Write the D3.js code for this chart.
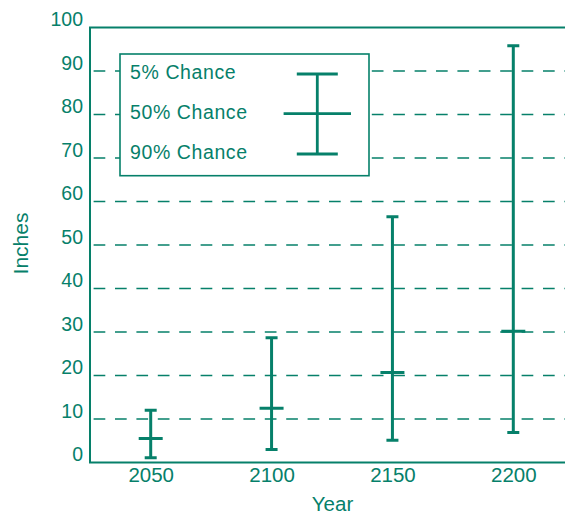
<!DOCTYPE html>
<html>
<head>
<meta charset="utf-8">
<script src="https://cdn.jsdelivr.net/npm/d3@7"></script>
<style>
  body { margin: 0; background: #fff; }
  svg { display: block; font-family: "Liberation Sans", Arial, sans-serif; }
</style>
</head>
<body>
<div id="chart"></div>
<script>
const years = [2050, 2100, 2150, 2200];
const chance5 = [12, 28.7, 56.5, 95.8];
const chance50 = [5.5, 12.5, 20.7, 30.2];
const chance90 = [1.1, 3.0, 5.1, 6.9];
const yTicks = [0, 10, 20, 30, 40, 50, 60, 70, 80, 90, 100];
const legendLabels = ["5% Chance", "50% Chance", "90% Chance"];

const width = 565, height = 516;
const green = "#06806a";

const svg = d3.select("#chart").append("svg")
  .attr("width", width)
  .attr("height", height);

const x = d3.scaleLinear([2050, 2200], [150.7, 513.3]);
const y = d3.scaleLinear([0, 100], [462.5, 27.5]);
const left = 90, right = 565;

// dashed grid
svg.append("g").selectAll("line")
  .data(yTicks.filter(d => d > 0 && d < 100))
  .join("line")
  .attr("x1", 93.6).attr("x2", right)
  .attr("y1", d => y(d)).attr("y2", d => y(d))
  .attr("stroke", green)
  .attr("stroke-width", 1.6)
  .attr("stroke-dasharray", "11.7 9.7");

// frame: left, top, bottom
svg.append("path")
  .attr("d", `M${right},${y(100)}H${left}V${y(0)}H${right}`)
  .attr("fill", "none")
  .attr("stroke", green)
  .attr("stroke-width", 2);

// y labels
svg.append("g").selectAll("text")
  .data(yTicks)
  .join("text")
  .attr("x", 83)
  .attr("y", d => y(d) - 1.5)
  .attr("text-anchor", "end")
  .attr("fill", green)
  .attr("font-size", 19.5)
  .text(d => d);

// x labels
const xAxis = svg.append("g")
  .attr("transform", `translate(0,${y(0)})`)
  .call(d3.axisBottom(x).tickValues(years).tickFormat(d3.format("d")).tickSize(0).tickPadding(5));
xAxis.select(".domain").remove();
xAxis.selectAll("text")
  .attr("fill", green)
  .attr("font-size", 20.5)
  .attr("font-family", "Liberation Sans, Arial, sans-serif");

svg.append("text")
  .attr("x", 332.5).attr("y", 511)
  .attr("text-anchor", "middle")
  .attr("fill", green)
  .attr("font-size", 20.5)
  .text("Year");

svg.append("text")
  .attr("transform", "translate(28,243.5) rotate(-90)")
  .attr("text-anchor", "middle")
  .attr("fill", green)
  .attr("font-size", 21)
  .text("Inches");

// legend
const lg = svg.append("g");
lg.append("rect")
  .attr("x", 120).attr("y", 54)
  .attr("width", 249).attr("height", 121.7)
  .attr("fill", "#fff")
  .attr("stroke", green)
  .attr("stroke-width", 1.6);
lg.selectAll("text")
  .data(legendLabels)
  .join("text")
  .attr("x", 130)
  .attr("y", (d, i) => 79 + i * 40)
  .attr("fill", green)
  .attr("font-size", 19.5)
  .attr("letter-spacing", 0.6)
  .text(d => d);
const lx = 317.3;
lg.append("path")
  .attr("d", `M${lx},74V154M${lx - 20.5},74H${lx + 20.5}M${lx - 20.5},154H${lx + 20.5}M${lx - 33.7},113.7H${lx + 33.7}`)
  .attr("fill", "none")
  .attr("stroke", green)
  .attr("stroke-width", 2.8);

// error bars
const bars = years.map((yr, i) => ({ yr, hi: chance5[i], mid: chance50[i], lo: chance90[i] }));
svg.append("g").selectAll("path")
  .data(bars)
  .join("path")
  .attr("d", d => {
    const cx = x(d.yr);
    return `M${cx},${y(d.hi)}V${y(d.lo)}` +
      `M${cx - 6},${y(d.hi)}H${cx + 6}` +
      `M${cx - 6},${y(d.lo)}H${cx + 6}` +
      `M${cx - 12},${y(d.mid)}H${cx + 12}`;
  })
  .attr("fill", "none")
  .attr("stroke", green)
  .attr("stroke-width", 3);
</script>
</body>
</html>
